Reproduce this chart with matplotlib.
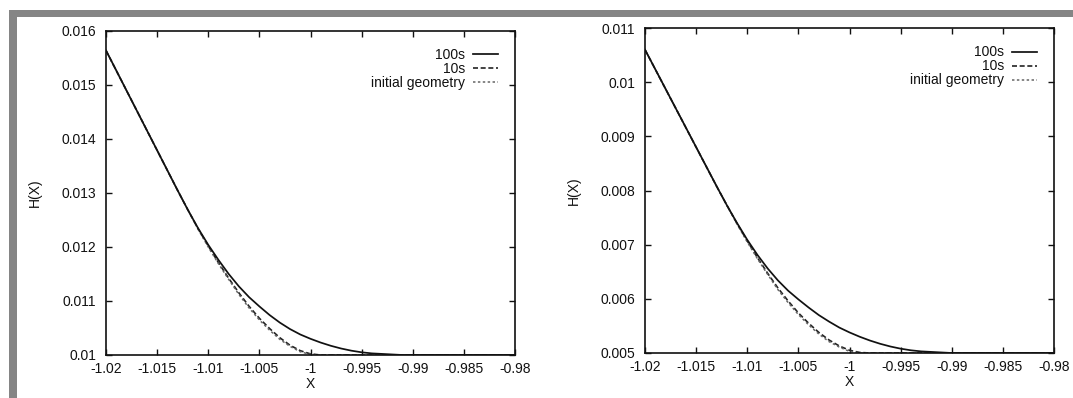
import matplotlib
matplotlib.use("Agg")
import matplotlib.pyplot as plt
from matplotlib.patches import Rectangle

plt.rcParams['font.family'] = ['Liberation Sans', 'DejaVu Sans']

# ---- data: left panel ----
x_100_left = [-1.020, -1.018, -1.016, -1.014, -1.013, -1.012, -1.011,
              -1.010, -1.009, -1.008, -1.007, -1.006, -1.005, -1.004, -1.003, -1.002, -1.001,
              -1.000, -0.999, -0.998, -0.997, -0.996, -0.995, -0.994, -0.993, -0.992, -0.991, -0.98]
h_100_left = [0.01564, 0.01490, 0.01416, 0.01342, 0.01305, 0.01269, 0.01235,
              0.01204, 0.01176, 0.01150, 0.01127, 0.01107, 0.01090, 0.01074, 0.01060, 0.01048, 0.01038,
              0.01030, 0.01023, 0.01017, 0.01012, 0.01008, 0.01005, 0.01003, 0.01002, 0.01001, 0.01000, 0.01000]
x_10_left = [-1.020, -1.018, -1.016, -1.014, -1.013, -1.012, -1.011, -1.010, -1.009, -1.008, -1.007, -1.006,
             -1.005, -1.004, -1.003, -1.002, -1.001, -1.000, -0.999, -0.98]
h_10_left = [0.01564, 0.01490, 0.01416, 0.01342, 0.01305, 0.01269, 0.01234, 0.01202, 0.01171, 0.01142, 0.01115, 0.01090,
             0.01068, 0.01049, 0.01032, 0.01018, 0.01008, 0.01002, 0.01000, 0.01000]
h_init_left = [0.01564, 0.01490, 0.01416, 0.01342, 0.01305, 0.01269, 0.01233, 0.01200, 0.01169, 0.01140, 0.01112, 0.01087,
               0.01065, 0.01046, 0.01029, 0.01016, 0.01006, 0.01001, 0.01000, 0.01000]

# ---- data: right panel ----
x_100_right = [-1.020, -1.018, -1.016, -1.014, -1.013, -1.012, -1.011,
               -1.010, -1.009, -1.008, -1.007, -1.006, -1.005, -1.004, -1.003, -1.002, -1.001,
               -1.000, -0.999, -0.998, -0.997, -0.996, -0.995, -0.994, -0.993, -0.992, -0.991,
               -0.990, -0.98]
h_100_right = [0.01060, 0.00988, 0.00916, 0.00844, 0.00808, 0.00773, 0.00740,
               0.00709, 0.00681, 0.00656, 0.00634, 0.00615, 0.00599, 0.00584, 0.00570, 0.00558, 0.00547,
               0.00538, 0.00530, 0.00523, 0.00517, 0.00512, 0.00508, 0.00505, 0.00503, 0.00502, 0.00501,
               0.00500, 0.00500]
x_10_right = [-1.020, -1.018, -1.016, -1.014, -1.013, -1.012, -1.011, -1.010, -1.009, -1.008, -1.007, -1.006,
              -1.005, -1.004, -1.003, -1.002, -1.001, -1.000, -0.999, -0.998, -0.98]
h_10_right = [0.01060, 0.00988, 0.00916, 0.00844, 0.00808, 0.00773, 0.00739, 0.00707, 0.00676, 0.00647, 0.00620, 0.00596,
              0.00574, 0.00555, 0.00538, 0.00524, 0.00513, 0.00505, 0.00501, 0.00500, 0.00500]
h_init_right = [0.01060, 0.00988, 0.00916, 0.00844, 0.00808, 0.00773, 0.00738, 0.00705, 0.00674, 0.00645, 0.00617, 0.00593,
                0.00571, 0.00552, 0.00535, 0.00521, 0.00511, 0.00503, 0.00500, 0.00500, 0.00500]

x_ticks = [-1.02, -1.015, -1.01, -1.005, -1.0, -0.995, -0.99, -0.985, -0.98]
x_ticklabels = ["-1.02", "-1.015", "-1.01", "-1.005", "-1", "-0.995", "-0.99", "-0.985", "-0.98"]
y_ticks_left = [0.010, 0.011, 0.012, 0.013, 0.014, 0.015, 0.016]
y_ticklabels_left = ["0.01", "0.011", "0.012", "0.013", "0.014", "0.015", "0.016"]
y_ticks_right = [0.005, 0.006, 0.007, 0.008, 0.009, 0.010, 0.011]
y_ticklabels_right = ["0.005", "0.006", "0.007", "0.008", "0.009", "0.01", "0.011"]
labels = ["100s", "10s", "initial geometry"]

W, H = 1073, 398
fig = plt.figure(figsize=(W / 100, H / 100), dpi=100)
fig.patch.set_facecolor("white")

# gray scan frame
fig.patches.append(Rectangle((9 / W, 1 - 17 / H), 1 - 9 / W, 7 / H, transform=fig.transFigure,
                             facecolor="#858585", edgecolor="none", zorder=0))
fig.patches.append(Rectangle((9 / W, 0), 8 / W, 1 - 10 / H, transform=fig.transFigure,
                             facecolor="#858585", edgecolor="none", zorder=0))

ax1 = fig.add_axes([106 / W, 1 - 355 / H, 409 / W, 324 / H])
ax2 = fig.add_axes([645 / W, 1 - 353 / H, 409 / W, 325 / H])

panels = [
    (ax1, x_100_left, h_100_left, x_10_left, h_10_left, h_init_left, y_ticks_left, y_ticklabels_left, (0.010, 0.016)),
    (ax2, x_100_right, h_100_right, x_10_right, h_10_right, h_init_right, y_ticks_right, y_ticklabels_right, (0.005, 0.011)),
]

ink = "#111111"
for ax, xa, ha, xb, hb, hc, yt, ytl, ylim in panels:
    ax.plot(xa, ha, color=ink, lw=1.25, ls="-", label=labels[0], zorder=3)
    ax.plot(xb, hb, color="#222222", lw=1.2, ls=(0, (3.0, 1.6)), label=labels[1], zorder=2)
    ax.plot(xb, hc, color="#666666", lw=1.1, ls=(0, (1.6, 1.6)), label=labels[2], zorder=2)
    ax.set_xlim(-1.02, -0.98)
    ax.set_ylim(*ylim)
    ax.set_xticks(x_ticks)
    ax.set_xticklabels(x_ticklabels)
    ax.set_yticks(yt)
    ax.set_yticklabels(ytl)
    ax.tick_params(direction="in", length=4.5, width=1.0, top=True, right=True,
                   labelsize=10, colors=ink, pad=5)
    ax.tick_params(axis="y", pad=7)
    for s in ax.spines.values():
        s.set_linewidth(1.2)
        s.set_color(ink)
    ax.set_xlabel("X", fontsize=10, color=ink, labelpad=1)
    ax.set_ylabel("H(X)", fontsize=10, color=ink, labelpad=14)
    leg = ax.legend(loc="upper right", frameon=False, markerfirst=False, fontsize=10,
                    handlelength=1.8, handletextpad=0.6, labelspacing=0.0,
                    borderaxespad=0.5, bbox_to_anchor=(0.99, 0.985))
    for t in leg.get_texts():
        t.set_color(ink)

fig.savefig("out.png", dpi=100, facecolor="white")
